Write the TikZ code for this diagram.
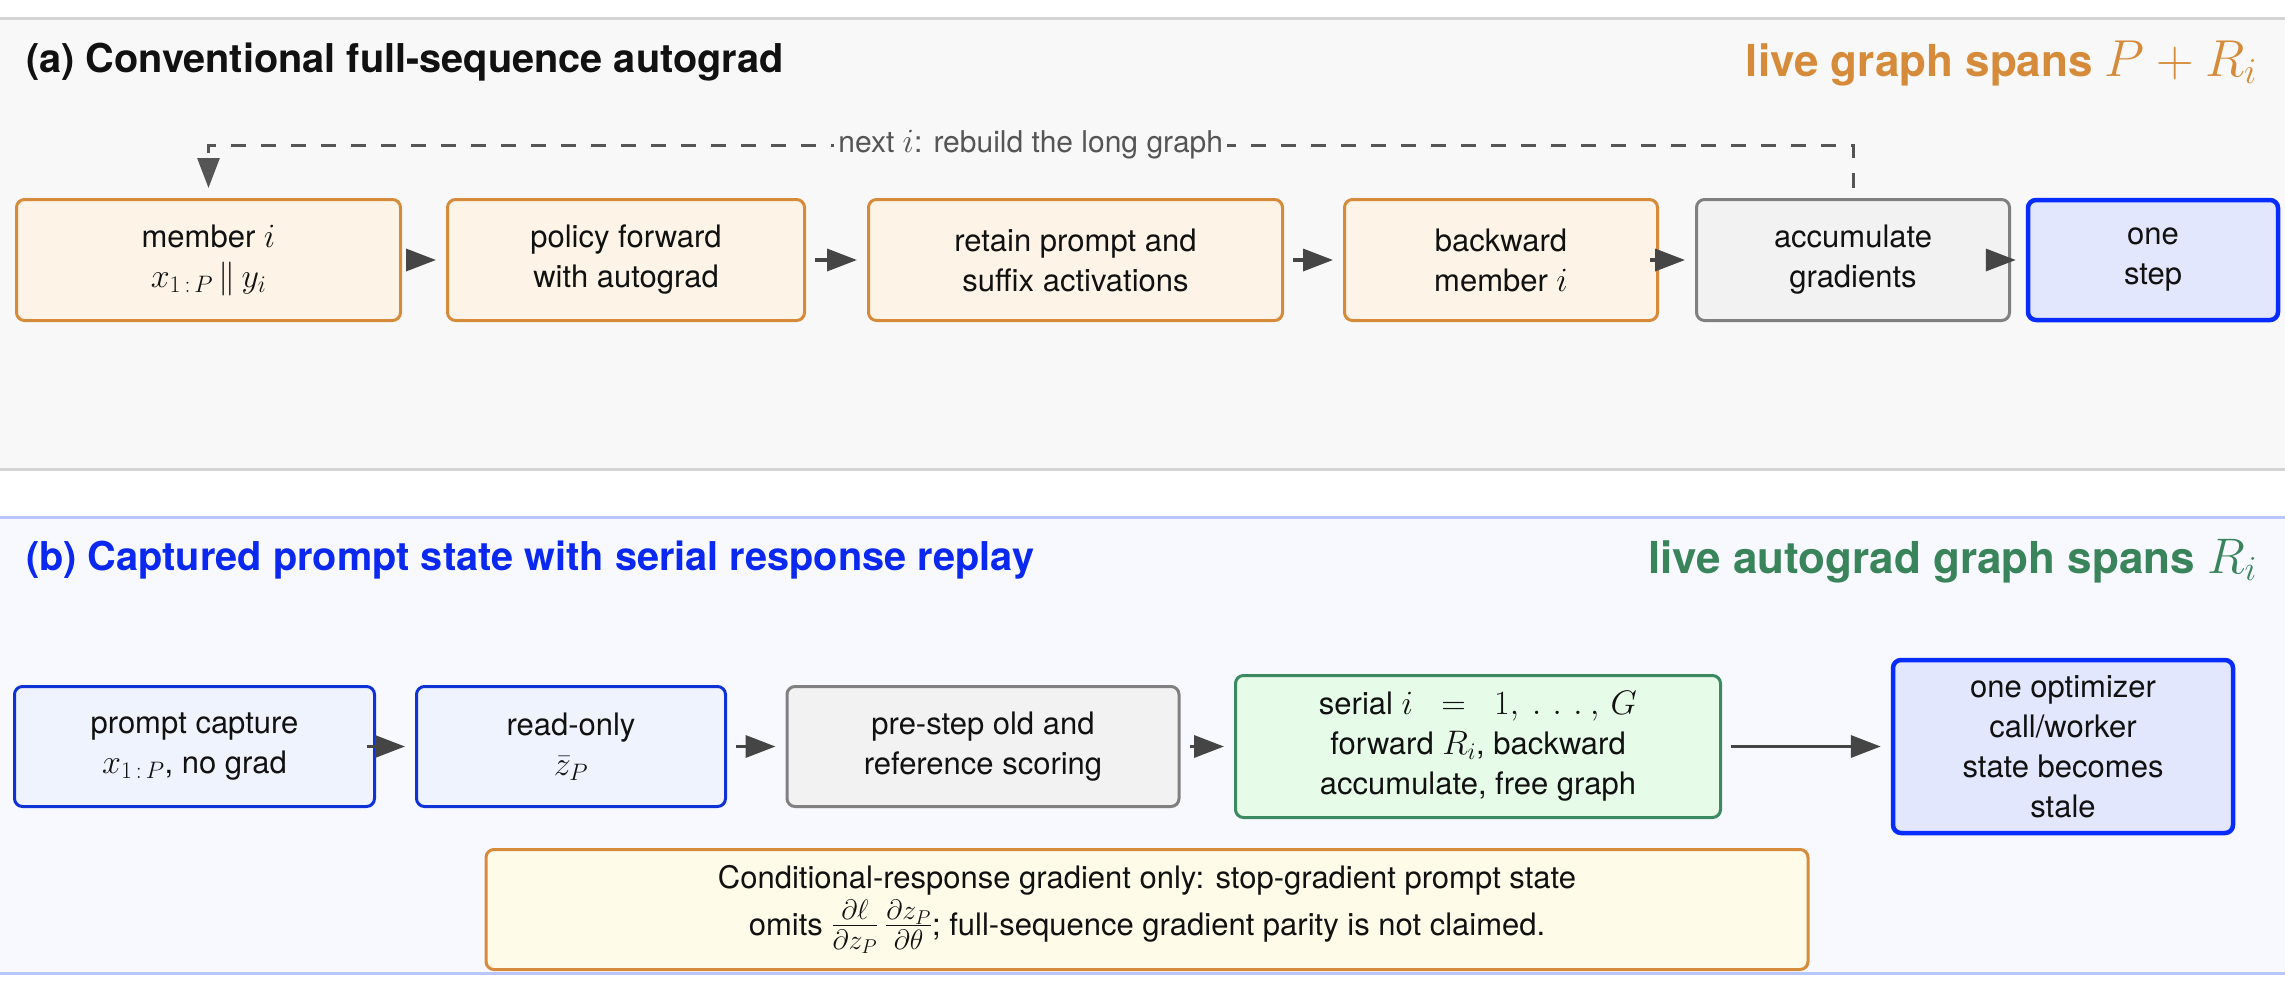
\RequirePackage{fix-cm}
\documentclass[tikz,border=0pt]{standalone}
\usepackage{fontspec}
\setmainfont{TeX Gyre Heros}
\usetikzlibrary{arrows.meta,calc}
\definecolor{orng}{RGB}{214,139,58}
\definecolor{ofill}{RGB}{253,244,231}
\definecolor{gfill}{RGB}{242,242,242}
\definecolor{gline}{RGB}{128,128,128}
\definecolor{bline}{RGB}{8,44,255}
\definecolor{bfill}{RGB}{226,231,253}
\definecolor{lbline}{RGB}{15,50,215}
\definecolor{lbfill}{RGB}{239,243,254}
\definecolor{grline}{RGB}{60,138,98}
\definecolor{grfill}{RGB}{230,251,232}
\definecolor{grtext}{RGB}{58,132,92}
\definecolor{nfill}{RGB}{255,251,233}
\definecolor{ttlblue}{RGB}{10,40,240}
\definecolor{ttlblack}{RGB}{17,17,17}
\definecolor{arrc}{RGB}{69,69,69}
\definecolor{dashc}{RGB}{85,85,85}
\definecolor{pabg}{RGB}{248,248,248}
\definecolor{paline}{RGB}{212,212,212}
\definecolor{pbbg}{RGB}{247,249,254}
\definecolor{pbline}{RGB}{184,198,250}
\newcommand{\mth}[1]{{\fontsize{34}{40}\selectfont$#1$}}
\begin{document}
\begin{tikzpicture}[x=1pt,y=-1pt,
  box/.style={rounded corners=8pt, line width=3pt, align=center, inner sep=0pt,
    font=\fontsize{31}{40}\selectfont, text=ttlblack},
  obox/.style={box, draw=orng, fill=ofill},
  gbox/.style={box, draw=gline, fill=gfill},
  bbox/.style={box, draw=bline, fill=bfill, line width=4.5pt},
  lbbox/.style={box, draw=lbline, fill=lbfill},
  grbox/.style={box, draw=grline, fill=grfill},
  notebox/.style={box, draw=orng, fill=nfill},
  arr/.style={draw=arrc, line width=3.5pt, -{Triangle[length=30pt,width=22pt]},
    shorten <=9pt, shorten >=10pt},
  dconn/.style={draw=dashc, line width=3pt, dash pattern=on 15pt off 15pt,
    -{Triangle[length=30pt,width=22pt]}, shorten <=10pt, shorten >=10pt},
  looplabel/.style={fill=pabg, inner xsep=4pt, inner ysep=3pt, text=dashc,
    font=\fontsize{30}{36}\selectfont},
  ttl/.style={font=\bfseries\fontsize{39.7}{48}\selectfont},
  side/.style={font=\bfseries\fontsize{44}{52}\selectfont}
]
\useasboundingbox (0,0) rectangle (2285,990);
\fill[white] (0,0) rectangle (2285,990);
% panel a
\fill[pabg] (-10,19) rectangle (2295,469);
\draw[paline, line width=3pt] (-10,19) -- (2295,19) (-10,469) -- (2295,469);
% panel b
\fill[pbbg] (-10,517) rectangle (2295,973);
\draw[pbline, line width=3pt] (-10,517) -- (2295,517) (-10,973) -- (2295,973);

% titles
\node[ttl, anchor=base west, text=ttlblack, inner sep=0pt] (ta) at (26,73) {(a) Conventional full-sequence autograd};
\node[side, anchor=base east, text=orng, inner sep=0pt] (la) at (2257,76) {live graph spans {\fontsize{52}{56}\selectfont$P+R_i$}};
\node[ttl, anchor=base west, text=ttlblue, inner sep=0pt] (tb) at (26,570) {(b) Captured prompt state with serial response replay};
\node[side, anchor=base east, text=grtext, inner sep=0pt] (lb) at (2257,573) {live autograd graph spans {\fontsize{50}{56}\selectfont$R_i$}};

% row a
\node[obox, minimum width=384pt, minimum height=121pt] (a1) at (208.5,260) {member \mth{i}\\ \mth{x_{1\mkern3mu:\mkern3mu P}\,\|\,y_i}};
\node[obox, minimum width=357pt, minimum height=121pt] (a2) at (626,260) {policy forward\\ with autograd};
\node[obox, minimum width=414pt, minimum height=121pt] (a3) at (1075.5,260) {retain prompt and\\ suffix activations};
\node[obox, minimum width=313pt, minimum height=121pt] (a4) at (1501,260) {backward\\ member \mth{i}};
\node[gbox, minimum width=313pt, minimum height=121pt] (a5) at (1853,260) {accumulate\\ gradients};
\node[bbox, minimum width=250pt, minimum height=120pt] (a6) at (2153,260) {one\\ step};

\draw[arr] (a1.east) -- (a2.west);
\draw[arr] (a2.east) -- (a3.west);
\draw[arr] (a3.east) -- (a4.west);
\draw[arr] (a4.east) -- (a5.west);
\draw[arr] (a5.east) -- (a6.west);

\coordinate (loopR) at (1853,145);
\coordinate (loopL) at (208.5,145);
\draw[dconn] (a5.north) -- (loopR) -- node[looplabel] (nl) {next \mth{i}: rebuild the long graph} (loopL) -- (a1.north);

% row b
\node[lbbox, minimum width=360pt, minimum height=120pt] (b1) at (194.5,746.5) {prompt capture\\ \mth{x_{1\mkern3mu:\mkern3mu P}}, no grad};
\node[lbbox, minimum width=309pt, minimum height=120pt] (b2) at (571,746.5) {read-only\\ \mth{\bar z_P}};
\node[gbox, minimum width=392pt, minimum height=120pt] (b3) at (983,746.5) {pre-step old and\\ reference scoring};
\node[grbox, minimum width=485pt, minimum height=142pt] (b4) at (1478,746.5) {serial \mth{i\;\;=\;\;1,\mkern4mu.\mkern6mu.\mkern6mu.\mkern4mu,\mkern3mu G}\\ forward \mth{R_i}, backward\\ accumulate, free graph};
\node[bbox, minimum width=340pt, minimum height=173pt] (b5) at (2063,746.5) {one optimizer\\ call/worker\\ state becomes\\ stale};
\node[notebox, minimum width=1322pt, minimum height=120pt] (b6) at (1147,909.5) {Conditional-response gradient only: stop-gradient prompt state\\[4pt] omits {\fontsize{40}{40}\selectfont$\frac{\partial\ell}{\partial z_P}\,\frac{\partial z_P}{\partial\theta}$}; full-sequence gradient parity is not claimed.};

\draw[arr] (b1.east) -- (b2.west);
\draw[arr] (b2.east) -- (b3.west);
\draw[arr] (b3.east) -- (b4.west);
\draw[arr] (b4.east) -- (b5.west);
\end{tikzpicture}
\end{document}
